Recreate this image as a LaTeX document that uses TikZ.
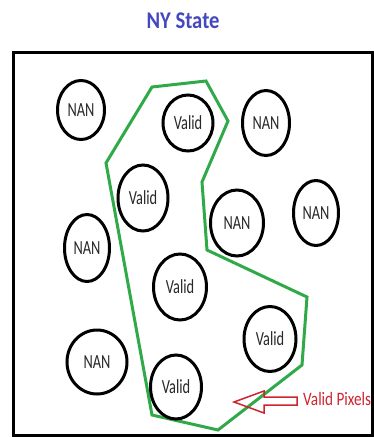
\documentclass[tikz,border=0pt]{standalone}
\usepackage{fontspec}
\setmainfont{Carlito}
\usetikzlibrary{shapes.geometric}
\definecolor{titleblue}{RGB}{68,72,190}
\definecolor{regiongreen}{RGB}{48,170,72}
\definecolor{markred}{RGB}{206,36,48}
\definecolor{inktext}{RGB}{40,40,40}
\newcommand\narrowtext[2]{\scalebox{#1}[1]{#2}}
\tikzset{
  pixel/.style={ellipse, draw=black, line width=3pt, fill=white, inner sep=0pt,
    text=inktext, font=\fontsize{20}{20}\selectfont},
  pixelsize/.style 2 args={minimum width=#1pt, minimum height=#2pt},
  region/.style={draw=regiongreen, line width=3pt, line join=miter},
  frame/.style={draw=black, line width=3pt},
}
\begin{document}
\begin{tikzpicture}[x=1pt, y=-1pt]
  \useasboundingbox (0,0) rectangle (374,437);
  % title
  \node[text=titleblue, font=\bfseries\fontsize{24}{24}\selectfont] (title) at (183,21)
    {\narrowtext{0.86}{NY State}};
  % state outline
  \draw[frame] (13,52) rectangle (372,435);
  % region of valid pixels
  \draw[region] (152,87) -- (206,81) -- (228,121) -- (202,182) -- (207,250)
    -- (307,297) -- (302,365) -- (218,430) -- (152,415) -- (106,163) -- cycle;
  % pixels
  \node[pixel, pixelsize={47}{59}] (n1) at (81,110) {\narrowtext{0.72}{NAN}};
  \node[pixel, pixelsize={50}{56}] (v1) at (188,123) {\narrowtext{0.72}{Valid}};
  \node[pixel, pixelsize={47}{65}] (n2) at (266,123) {\narrowtext{0.72}{NAN}};
  \node[pixel, pixelsize={50}{66}] (v2) at (143,198) {\narrowtext{0.72}{Valid}};
  \node[pixel, pixelsize={53}{66}] (n3) at (237,223) {\narrowtext{0.72}{NAN}};
  \node[pixel, pixelsize={45}{65}] (n4) at (316,213) {\narrowtext{0.72}{NAN}};
  \node[pixel, pixelsize={45}{67}] (n5) at (87,248) {\narrowtext{0.72}{NAN}};
  \node[pixel, pixelsize={53}{66}] (v3) at (180,287) {\narrowtext{0.72}{Valid}};
  \node[pixel, pixelsize={52}{65}] (v4) at (270,339) {\narrowtext{0.72}{Valid}};
  \node[pixel, pixelsize={60}{64}] (n6) at (97,362) {\narrowtext{0.72}{NAN}};
  \node[pixel, pixelsize={51}{64}] (v5) at (176,387) {\narrowtext{0.72}{Valid}};
  % legend
  \node[anchor=west, inner sep=0pt, text=markred, font=\fontsize{19}{19}\selectfont]
    (legend) at (303,399) {\narrowtext{0.8}{Valid Pixels}};
  \coordinate (tip) at (234,402);
  \draw[markred, line width=1.5pt, line join=miter]
    (legend.west) ++(-6,-2) coordinate (tail)
    (tail) -- ++(-33,0) -- ++(0,-6) -- (tip) -- ++(30,11) -- ++(0,-8)
    -- ++(33,0) -- cycle;
\end{tikzpicture}
\end{document}
